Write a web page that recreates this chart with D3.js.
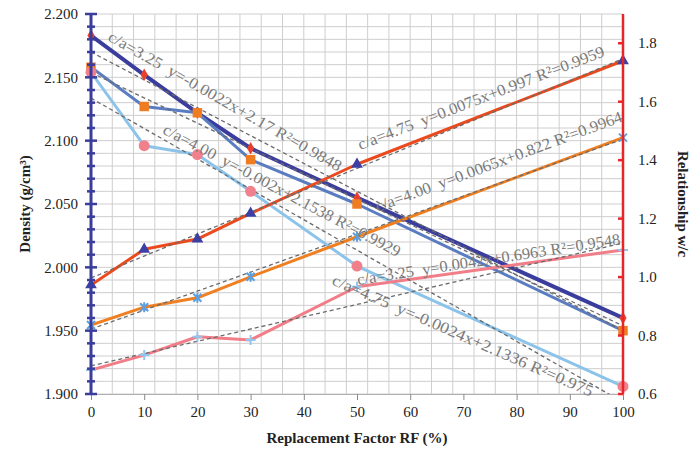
<!DOCTYPE html>
<html>
<head>
<meta charset="utf-8">
<script src="https://cdn.jsdelivr.net/npm/d3@7"></script>
<style>
    body { margin: 0; background: white; }
    svg { display: block; }
    text { font-family: "Liberation Serif", "Times New Roman", serif; }
</style>
</head>
<body>
<svg id="chart" width="700" height="455"></svg>
<script>
// replacement factor (%) for every series
const rf = [0, 10, 20, 30, 50, 100];

// density (left axis)
const densityCa325 = [2.183, 2.152, 2.122, 2.094, 2.055, 1.960];
const densityCa400 = [2.158, 2.127, 2.122, 2.085, 2.050, 1.950];
const densityCa475 = [2.154, 2.096, 2.089, 2.060, 2.001, 1.906];

// w/c relationship (right axis)
const wcCa475 = [0.973, 1.095, 1.130, 1.218, 1.386, 1.740];
const wcCa400 = [0.836, 0.897, 0.929, 1.001, 1.138, 1.477];
const wcCa325 = [0.682, 0.733, 0.796, 0.785, 0.967, 1.093];

// linear trends as printed on the chart
const trendSlope = [-0.0022, -0.002, -0.0024, 0.0075, 0.0065, 0.0042];
const trendIntercept = [2.17, 2.1538, 2.1336, 0.997, 0.822, 0.6963];
const trendText = [
    "c/a=3.25  y=-0.0022x+2.17 R²=0.9848",
    "c/a=4.00  y=-0.002x+2.1538 R²=0.9929",
    "c/a=4.75  y=-0.0024x+2.1336 R²=0.975",
    "c/a=4.75  y=0.0075x+0.997 R²=0.9959",
    "c/a=4.00  y=0.0065x+0.822 R²=0.9964",
    "c/a=3.25  y=0.0042x+0.6963 R²=0.9548"
];

const xTicks = [0, 10, 20, 30, 40, 50, 60, 70, 80, 90, 100];
const leftTicks = [1.90, 1.95, 2.00, 2.05, 2.10, 2.15, 2.20];
const rightTicks = [0.6, 0.8, 1.0, 1.2, 1.4, 1.6, 1.8];

const svg = d3.select("#chart");

const x = d3.scaleLinear().domain([0, 100]).range([91, 623]);
const yL = d3.scaleLinear().domain([1.9, 2.2]).range([394, 14]);
const yR = d3.scaleLinear().domain([0.6, 1.9]).range([394, 14]);

svg.append("defs").append("clipPath").attr("id", "plot")
    .append("rect")
    .attr("x", x(0)).attr("y", yL(2.2))
    .attr("width", x(100) - x(0)).attr("height", yL(1.9) - yL(2.2));

// grid
const grid = svg.append("g").attr("stroke", "#cecece").attr("stroke-width", 1);
grid.selectAll("line.h")
    .data(d3.range(0, 31).map(i => 1.9 + i * 0.01))
    .enter().append("line")
    .attr("x1", x(0)).attr("x2", x(100))
    .attr("y1", d => yL(d)).attr("y2", d => yL(d));
grid.selectAll("line.v")
    .data(d3.range(4, 100, 4))
    .enter().append("line")
    .attr("x1", d => x(d)).attr("x2", d => x(d))
    .attr("y1", yL(2.2)).attr("y2", yL(1.9));

// x axis
const xAxis = svg.append("g")
    .attr("transform", `translate(0,${yL(1.9)})`)
    .call(d3.axisBottom(x).tickValues(xTicks).tickSize(6).tickPadding(6).tickSizeOuter(0));
xAxis.select(".domain").attr("stroke", "#b0b0b0");
xAxis.selectAll(".tick line").attr("stroke", "#8a8a8a");
xAxis.selectAll(".tick text").attr("font-size", "15px").attr("fill", "#222");

const series = [
    { values: densityCa325, y: yL, color: "#3a3d9c", width: 4, marker: "diamond", mcolor: "#e8412b" },
    { values: densityCa400, y: yL, color: "#5a7cc0", width: 3, marker: "square", mcolor: "#f07c22" },
    { values: densityCa475, y: yL, color: "#8cc3ea", width: 3, marker: "circle", mcolor: "#f0808c" },
    { values: wcCa475, y: yR, color: "#ea4a1d", width: 3, marker: "triangle", mcolor: "#3c40a4" },
    { values: wcCa400, y: yR, color: "#ef7f20", width: 3, marker: "star", mcolor: "#5f9fdc" },
    { values: wcCa325, y: yR, color: "#f07d87", width: 3, marker: "plus", mcolor: "#93c6ee" }
];

const plot = svg.append("g").attr("clip-path", "url(#plot)");

series.forEach(s => {
    const line = d3.line().x((d, i) => x(rf[i])).y(d => s.y(d));
    plot.append("path")
        .datum(s.values)
        .attr("d", line)
        .attr("fill", "none")
        .attr("stroke", s.color)
        .attr("stroke-width", s.width)
        .attr("stroke-linejoin", "round");
});

// dashed trend lines
series.forEach((s, k) => {
    plot.append("line")
        .attr("x1", x(0)).attr("y1", s.y(trendIntercept[k]))
        .attr("x2", x(100)).attr("y2", s.y(trendIntercept[k] + trendSlope[k] * 100))
        .attr("stroke", "#6b6b6b")
        .attr("stroke-width", 1.3)
        .attr("stroke-dasharray", "4,3");
});

// markers
series.forEach(s => {
    const g = svg.append("g");
    const pts = g.selectAll("g").data(s.values).enter().append("g")
        .attr("transform", (d, i) => `translate(${x(rf[i])},${s.y(d)})`);
    if (s.marker === "diamond") {
        pts.append("path").attr("d", d3.symbol(d3.symbolDiamond, 45)).attr("fill", s.mcolor);
    } else if (s.marker === "square") {
        pts.append("path").attr("d", d3.symbol(d3.symbolSquare, 90)).attr("fill", s.mcolor);
    } else if (s.marker === "circle") {
        pts.append("circle").attr("r", 5.5).attr("fill", s.mcolor);
    } else if (s.marker === "triangle") {
        pts.append("path").attr("d", d3.symbol(d3.symbolTriangle, 60)).attr("fill", s.mcolor);
    } else if (s.marker === "star") {
        pts.append("path").attr("d", "M-4,-4L4,4M-4,4L4,-4M0,-5L0,5")
            .attr("stroke", s.mcolor).attr("stroke-width", 2).attr("fill", "none");
    } else {
        pts.append("path").attr("d", "M-5,0L5,0M0,-5L0,5")
            .attr("stroke", s.mcolor).attr("stroke-width", 2).attr("fill", "none");
    }
});

// trend labels
const labelAnchor = [
    { rf: 3.0, v: 2.1795, axis: yL, angle: 29.7, len: 266 },
    { rf: 13.3, v: 2.106, axis: yL, angle: 27.8, len: 266 },
    { rf: 45.1, v: 1.9868, axis: yL, angle: 23.5, len: 283 },
    { rf: 50.6, v: 1.4348, axis: yR, angle: -21, len: 263 },
    { rf: 53.9, v: 1.2227, axis: yR, angle: -20.3, len: 262 },
    { rf: 50.2, v: 0.973, axis: yR, angle: -8.8, len: 266 }
];
svg.append("g").selectAll("text")
    .data(labelAnchor)
    .enter().append("text")
    .attr("transform", d => `translate(${x(d.rf)},${d.axis(d.v)}) rotate(${d.angle})`)
    .attr("font-size", "16px")
    .attr("fill", "#7a7a7a")
    .attr("textLength", d => d.len)
    .attr("lengthAdjust", "spacingAndGlyphs")
    .style("white-space", "pre")
    .text((d, i) => trendText[i]);

// left axis
const left = svg.append("g");
left.append("line")
    .attr("x1", x(0)).attr("x2", x(0))
    .attr("y1", yL(2.2)).attr("y2", yL(1.9))
    .attr("stroke", "#3a3d9c").attr("stroke-width", 3);
left.selectAll("line.minor")
    .data(d3.range(0, 31).map(i => 1.9 + i * 0.01))
    .enter().append("line")
    .attr("x1", (d, i) => x(0) - (i % 5 === 0 ? 6 : 4))
    .attr("x2", (d, i) => x(0) + (i % 5 === 0 ? 6 : 4))
    .attr("y1", d => yL(d)).attr("y2", d => yL(d))
    .attr("stroke", "#3a3d9c").attr("stroke-width", 2.5);
left.selectAll("text")
    .data(leftTicks)
    .enter().append("text")
    .attr("x", x(0) - 13)
    .attr("y", d => yL(d))
    .attr("dy", "0.35em")
    .attr("text-anchor", "end")
    .attr("font-size", "15px")
    .attr("fill", "#222")
    .text(d => d3.format(".3f")(d));

// right axis
const right = svg.append("g");
right.append("line")
    .attr("x1", x(100)).attr("x2", x(100))
    .attr("y1", yR(1.9)).attr("y2", yR(0.6))
    .attr("stroke", "#e8262a").attr("stroke-width", 2.5);
right.selectAll("line.tick")
    .data(rightTicks)
    .enter().append("line")
    .attr("x1", x(100) - 5).attr("x2", x(100))
    .attr("y1", d => yR(d)).attr("y2", d => yR(d))
    .attr("stroke", "#e8262a").attr("stroke-width", 2.5);
right.selectAll("text")
    .data(rightTicks)
    .enter().append("text")
    .attr("x", x(100) + 15)
    .attr("y", d => yR(d))
    .attr("dy", "0.35em")
    .attr("font-size", "15px")
    .attr("fill", "#222")
    .text(d => d3.format(".1f")(d));

// axis titles
svg.append("text")
    .attr("x", 357).attr("y", 443)
    .attr("text-anchor", "middle")
    .attr("font-size", "15px").attr("font-weight", "bold")
    .attr("fill", "#222")
    .text("Replacement Factor RF (%)");
svg.append("text")
    .attr("transform", "translate(30,204) rotate(-90)")
    .attr("text-anchor", "middle")
    .attr("font-size", "15px").attr("font-weight", "bold")
    .attr("fill", "#222")
    .text("Density (g/cm³)");
svg.append("text")
    .attr("transform", "translate(678,204) rotate(90)")
    .attr("text-anchor", "middle")
    .attr("font-size", "15px").attr("font-weight", "bold")
    .attr("fill", "#222")
    .text("Relationship w/c");
</script>
</body>
</html>
